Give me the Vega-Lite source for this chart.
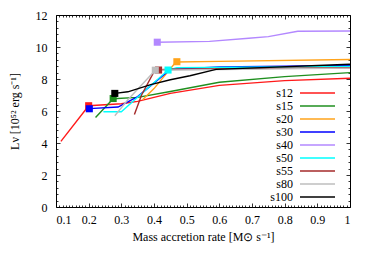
{
  "$schema": "https://vega.github.io/schema/vega-lite/v6.json",
  "width": 294,
  "height": 192,
  "autosize": {"type": "none"},
  "padding": {"left": 56, "top": 15, "right": 24, "bottom": 55},
  "background": "white",
  "config": {
    "font": "Liberation Serif",
    "view": {"stroke": "black", "strokeWidth": 1},
    "axis": {"labelFont": "Liberation Serif", "titleFont": "Liberation Serif", "labelFontSize": 12, "titleFontSize": 12, "titleFontWeight": "normal", "labelColor": "black", "titleColor": "black", "domain": false, "grid": false, "tickColor": "black", "tickWidth": 0.8, "ticks": true}
  },
  "datasets": {
    "curves": [
      {"series": "s12", "x": 0.115, "y": 4.1}, {"series": "s12", "x": 0.2, "y": 6.33}, {"series": "s12", "x": 0.3, "y": 6.45}, {"series": "s12", "x": 0.35, "y": 6.6}, {"series": "s12", "x": 0.45, "y": 7.1}, {"series": "s12", "x": 0.6, "y": 7.6}, {"series": "s12", "x": 0.8, "y": 7.9}, {"series": "s12", "x": 1.0, "y": 8.05},
      {"series": "s15", "x": 0.221, "y": 5.6}, {"series": "s15", "x": 0.275, "y": 6.77}, {"series": "s15", "x": 0.35, "y": 6.85}, {"series": "s15", "x": 0.45, "y": 7.22}, {"series": "s15", "x": 0.6, "y": 7.8}, {"series": "s15", "x": 0.8, "y": 8.15}, {"series": "s15", "x": 1.0, "y": 8.4},
      {"series": "s20", "x": 0.365, "y": 6.7}, {"series": "s20", "x": 0.4, "y": 7.4}, {"series": "s20", "x": 0.467, "y": 9.06}, {"series": "s20", "x": 0.6, "y": 9.1}, {"series": "s20", "x": 1.0, "y": 9.22},
      {"series": "s30", "x": 0.202, "y": 6.15}, {"series": "s30", "x": 0.29, "y": 6.25}, {"series": "s30", "x": 0.35, "y": 6.9}, {"series": "s30", "x": 0.45, "y": 8.6}, {"series": "s30", "x": 0.6, "y": 8.75}, {"series": "s30", "x": 1.0, "y": 8.85},
      {"series": "s40", "x": 0.41, "y": 10.3}, {"series": "s40", "x": 0.57, "y": 10.35}, {"series": "s40", "x": 0.69, "y": 10.55}, {"series": "s40", "x": 0.75, "y": 10.65}, {"series": "s40", "x": 0.84, "y": 10.98}, {"series": "s40", "x": 1.0, "y": 11.0},
      {"series": "s50", "x": 0.245, "y": 5.95}, {"series": "s50", "x": 0.3, "y": 5.95}, {"series": "s50", "x": 0.443, "y": 8.56}, {"series": "s50", "x": 0.47, "y": 8.7}, {"series": "s50", "x": 1.0, "y": 8.78},
      {"series": "s55", "x": 0.34, "y": 5.78}, {"series": "s55", "x": 0.362, "y": 7.0}, {"series": "s55", "x": 0.403, "y": 8.56}, {"series": "s55", "x": 0.45, "y": 8.62}, {"series": "s55", "x": 1.0, "y": 8.7},
      {"series": "s80", "x": 0.28, "y": 5.7}, {"series": "s80", "x": 0.32, "y": 6.7}, {"series": "s80", "x": 0.404, "y": 8.55}, {"series": "s80", "x": 1.0, "y": 8.68},
      {"series": "s100", "x": 0.28, "y": 7.1}, {"series": "s100", "x": 0.32, "y": 7.2}, {"series": "s100", "x": 0.39, "y": 7.65}, {"series": "s100", "x": 0.45, "y": 7.95}, {"series": "s100", "x": 0.51, "y": 8.2}, {"series": "s100", "x": 0.59, "y": 8.6}, {"series": "s100", "x": 1.0, "y": 8.92}
    ],
    "markers": [
      {"series": "s12", "x": 0.2, "y": 6.33},
      {"series": "s15", "x": 0.275, "y": 6.78},
      {"series": "s20", "x": 0.47, "y": 9.08},
      {"series": "s30", "x": 0.202, "y": 6.14},
      {"series": "s40", "x": 0.41, "y": 10.3},
      {"series": "s50", "x": 0.443, "y": 8.56},
      {"series": "s55", "x": 0.414, "y": 8.56},
      {"series": "s80", "x": 0.404, "y": 8.55},
      {"series": "s100", "x": 0.28, "y": 7.1}
    ]
  },
  "resolve": {"axis": {"x": "independent", "y": "independent"}},
  "layer": [
    {
      "data": {"name": "curves"},
      "mark": {"type": "line", "strokeWidth": 1.4, "clip": true},
      "encoding": {
        "x": {"field": "x", "type": "quantitative", "scale": {"domain": [0.1, 1], "nice": false, "zero": false},
              "axis": {"orient": "bottom", "values": [0.1,0.2,0.3,0.4,0.5,0.6,0.7,0.8,0.9,1], "tickSize": 4, "offset": -4, "labelPadding": 7.5, "titlePadding": 6, "labelExpr": "datum.value == 1 ? '1' : format(datum.value, '.1f')", "title": "Mass accretion rate [M⊙ s⁻¹]"}},
        "y": {"field": "y", "type": "quantitative", "scale": {"domain": [0, 12], "nice": false, "zero": false},
              "axis": {"orient": "left", "values": [0,2,4,6,8,10,12], "tickSize": 4, "offset": -4, "labelPadding": 9, "titlePadding": 14, "title": "Lν [10⁵² erg s⁻¹]"}},
        "color": {"field": "series", "type": "nominal",
                  "scale": {"domain": ["s12","s15","s20","s30","s40","s50","s55","s80","s100"],
                            "range": ["#ff1a1a","#1f8f1f","#ffa31a","#0000ff","#b388ff","#00ffff","#a52a2a","#bebebe","#000000"]},
                  "legend": {"orient": "none", "legendX": 255.5, "legendY": 72, "title": null, "symbolType": "M-3.5,0H3.5", "symbolSize": 100, "symbolStrokeWidth": 1.6, "labelAlign": "right", "labelOffset": -30.5, "labelFont": "Liberation Serif", "labelFontSize": 12, "labelColor": "black", "rowPadding": 1, "symbolOpacity": 1}}
      }
    },
    {
      "data": {"name": "markers"},
      "mark": {"type": "square", "size": 50, "opacity": 1, "filled": true},
      "encoding": {
        "x": {"field": "x", "type": "quantitative",
              "axis": {"orient": "top", "values": [0.1,0.2,0.3,0.4,0.5,0.6,0.7,0.8,0.9,1], "tickSize": 4, "offset": -4, "labels": false, "title": null}},
        "y": {"field": "y", "type": "quantitative",
              "axis": {"orient": "right", "values": [0,2,4,6,8,10,12], "tickSize": 4, "offset": -4, "labels": false, "title": null}},
        "color": {"field": "series", "type": "nominal", "legend": null}
      }
    },
    {
      "data": {"name": "markers"},
      "mark": {"type": "point", "opacity": 0},
      "encoding": {
        "x": {"field": "x", "type": "quantitative",
              "axis": {"orient": "bottom", "values": [0.11,0.12,0.13,0.14,0.15,0.16,0.17,0.18,0.19,0.21,0.22,0.23,0.24,0.25,0.26,0.27,0.28,0.29,0.31,0.32,0.33,0.34,0.35,0.36,0.37,0.38,0.39,0.41,0.42,0.43,0.44,0.45,0.46,0.47,0.48,0.49,0.51,0.52,0.53,0.54,0.55,0.56,0.57,0.58,0.59,0.61,0.62,0.63,0.64,0.65,0.66,0.67,0.68,0.69,0.71,0.72,0.73,0.74,0.75,0.76,0.77,0.78,0.79,0.81,0.82,0.83,0.84,0.85,0.86,0.87,0.88,0.89,0.91,0.92,0.93,0.94,0.95,0.96,0.97,0.98,0.99], "tickSize": 2, "offset": -2, "labels": false, "title": null}},
        "y": {"field": "y", "type": "quantitative",
              "axis": {"orient": "left", "values": [0.4,0.8,1.2,1.6,2.4,2.8,3.2,3.6,4.4,4.8,5.2,5.6,6.4,6.8,7.2,7.6,8.4,8.8,9.2,9.6,10.4,10.8,11.2,11.6], "tickSize": 2, "offset": -2, "labels": false, "title": null}}
      }
    },
    {
      "data": {"name": "markers"},
      "mark": {"type": "point", "opacity": 0},
      "encoding": {
        "x": {"field": "x", "type": "quantitative",
              "axis": {"orient": "top", "values": [0.11,0.12,0.13,0.14,0.15,0.16,0.17,0.18,0.19,0.21,0.22,0.23,0.24,0.25,0.26,0.27,0.28,0.29,0.31,0.32,0.33,0.34,0.35,0.36,0.37,0.38,0.39,0.41,0.42,0.43,0.44,0.45,0.46,0.47,0.48,0.49,0.51,0.52,0.53,0.54,0.55,0.56,0.57,0.58,0.59,0.61,0.62,0.63,0.64,0.65,0.66,0.67,0.68,0.69,0.71,0.72,0.73,0.74,0.75,0.76,0.77,0.78,0.79,0.81,0.82,0.83,0.84,0.85,0.86,0.87,0.88,0.89,0.91,0.92,0.93,0.94,0.95,0.96,0.97,0.98,0.99], "tickSize": 2, "offset": -2, "labels": false, "title": null}},
        "y": {"field": "y", "type": "quantitative",
              "axis": {"orient": "right", "values": [0.4,0.8,1.2,1.6,2.4,2.8,3.2,3.6,4.4,4.8,5.2,5.6,6.4,6.8,7.2,7.6,8.4,8.8,9.2,9.6,10.4,10.8,11.2,11.6], "tickSize": 2, "offset": -2, "labels": false, "title": null}}
      }
    }
  ]
}
